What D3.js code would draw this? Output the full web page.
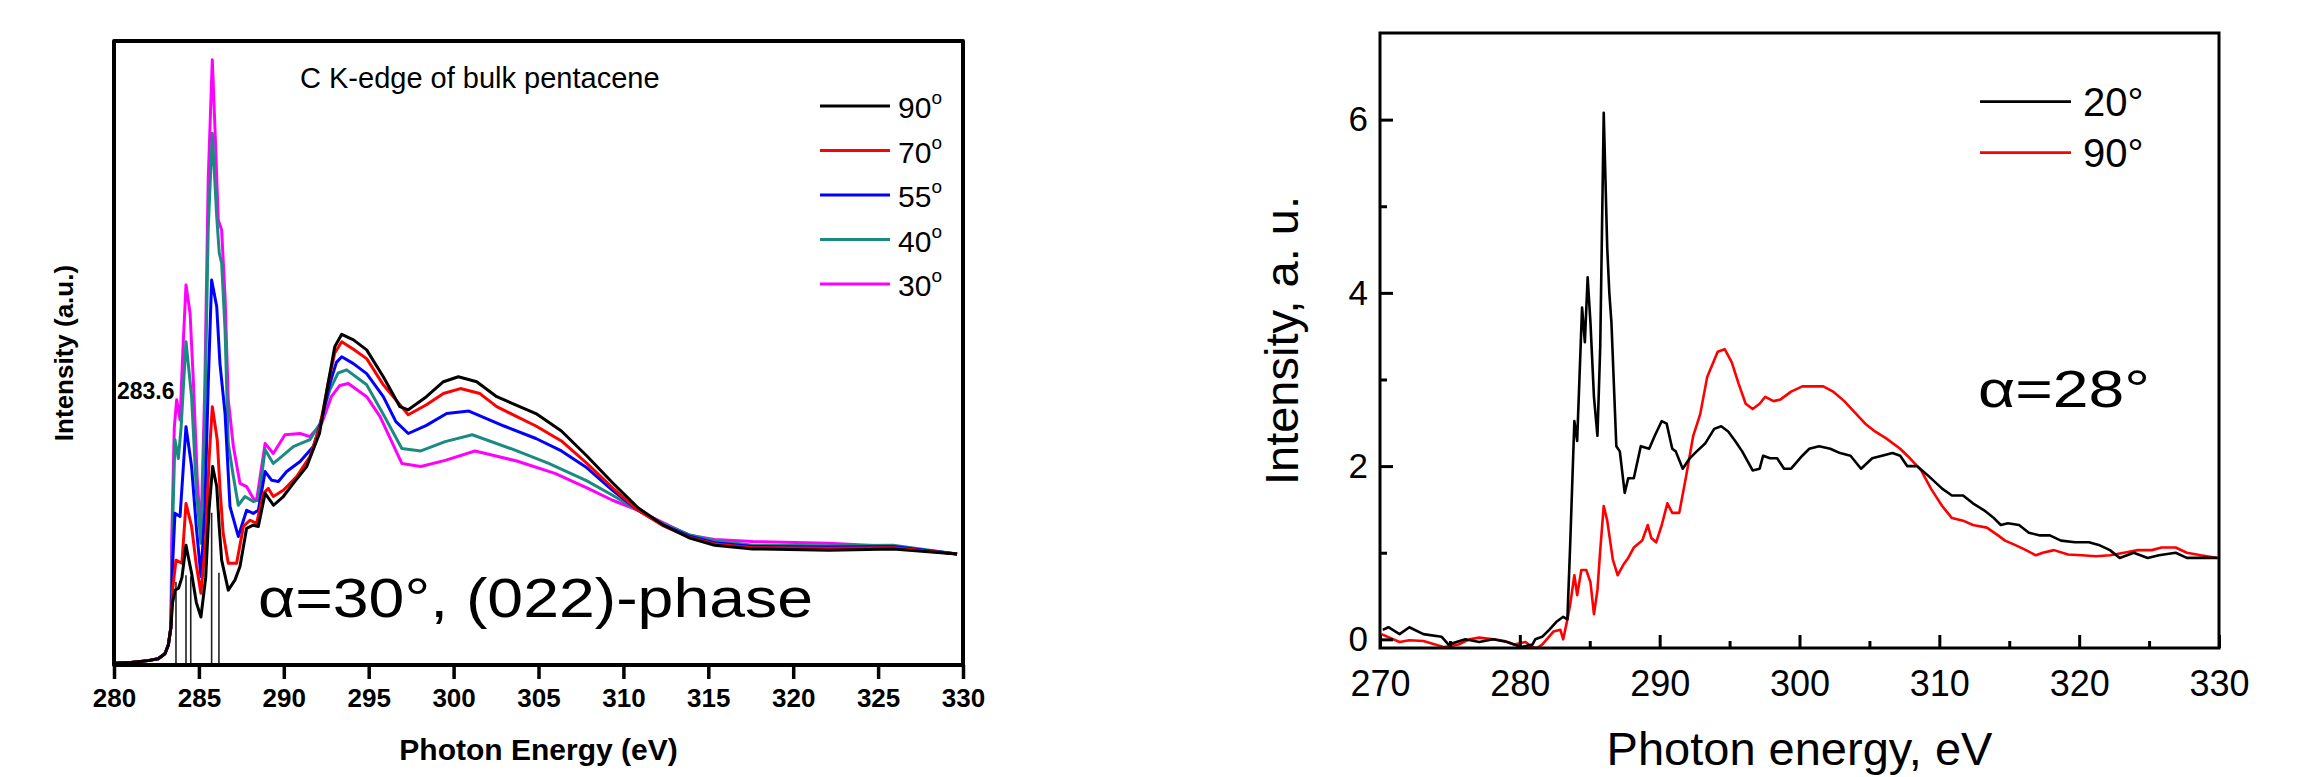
<!DOCTYPE html>
<html>
<head>
<meta charset="utf-8">
<script src="https://cdn.jsdelivr.net/npm/d3@7"></script>
<style>
  body { margin: 0; background: #fff; }
  svg { display: block; }
  text { font-family: "Liberation Sans", Arial, sans-serif; }
</style>
</head>
<body>
<svg id="svg"></svg>
<script>
// ---------- LEFT PANEL DATA (bulk pentacene, arbitrary units 0..100) ----------
const leftTicks = [280, 285, 290, 295, 300, 305, 310, 315, 320, 325, 330];
const leftNames = ['90', '70', '55', '40', '30'];

const preEdge = [[280, 0.3], [281, 0.4], [282, 0.7], [282.6, 1.0], [283, 1.8], [283.2, 3.2], [283.35, 6]];

const k90 = [[283.45, 10], [283.6, 12.0], [283.8, 12.3], [284.0, 14], [284.24, 19.2], [284.4, 17], [284.57, 14.7], [284.85, 10], [285.12, 7.7], [285.4, 14], [285.6, 25], [285.81, 31.8], [286.05, 28.6], [286.2, 22], [286.34, 16.8], [286.73, 12.0], [287.12, 13.6], [287.42, 15.8], [287.81, 21.9], [288.2, 22.4], [288.5, 22.2], [288.9, 27.5], [289.4, 25.6], [289.97, 27.0], [290.56, 29.1], [291.35, 31.8], [292.1, 37.1], [292.6, 45], [293.0, 51], [293.41, 53.0], [294.1, 52.1], [294.88, 50.5], [295.86, 46.2], [296.84, 41.4], [297.33, 40.9], [298.4, 43.0], [299.4, 45.4], [300.28, 46.2], [301.36, 45.4], [302.54, 43.0], [304.85, 40.3], [306.35, 37.5], [307.85, 33.5], [309.36, 29.2], [310.86, 25.2], [312.36, 22.4], [313.86, 20.4], [315.37, 19.2], [317.62, 18.6], [322.1, 18.4], [325.88, 18.6], [329.65, 17.8]];

const k70 = [[283.45, 12], [283.65, 16.8], [284.0, 16.3], [284.24, 25.9], [284.57, 22.2], [284.85, 16], [285.12, 11.5], [285.4, 20], [285.6, 33], [285.79, 41.4], [286.08, 36.1], [286.25, 28], [286.43, 21.1], [286.73, 16.3], [287.22, 16.3], [287.62, 22.2], [288.0, 23.2], [288.4, 22.7], [288.8, 27.5], [289.09, 28.3], [289.38, 27.0], [289.97, 28.0], [290.76, 30.2], [291.54, 33.4], [292.13, 38.2], [292.6, 45], [293.0, 50], [293.41, 51.8], [294.1, 50.6], [294.88, 49.1], [295.86, 44.9], [297.33, 40.1], [298.4, 41.7], [299.4, 43.5], [300.4, 44.3], [301.55, 43.5], [302.54, 41.4], [304.85, 38.3], [306.35, 35.9], [307.85, 32.3], [309.36, 28.4], [310.86, 24.8], [312.36, 22.3], [313.86, 20.5], [315.37, 19.4], [317.62, 18.8], [322.1, 18.7], [325.88, 18.8], [329.65, 17.8]];

const k55 = [[283.45, 16], [283.59, 24.3], [283.89, 23.8], [284.24, 38.2], [284.57, 31.8], [284.85, 22], [285.12, 14.2], [285.35, 25], [285.55, 45], [285.75, 61.7], [286.05, 57.4], [286.24, 48.3], [286.54, 40.3], [286.83, 25.4], [287.32, 20.6], [287.81, 24.8], [288.2, 24.3], [288.5, 24.8], [288.9, 31.0], [289.29, 29.6], [289.68, 29.4], [290.17, 31.0], [290.96, 32.6], [291.74, 35.0], [292.23, 39.3], [292.7, 45], [293.1, 48.5], [293.41, 49.4], [294.1, 48.3], [294.88, 46.7], [295.86, 43.0], [296.6, 39], [297.33, 37.1], [298.4, 38.4], [299.59, 40.3], [300.9, 40.7], [302.97, 38.3], [304.85, 36.3], [306.35, 34.3], [307.85, 31.6], [309.36, 28.0], [310.86, 24.8], [312.36, 22.4], [313.86, 20.7], [315.37, 19.6], [317.62, 19.0], [322.1, 18.9], [325.88, 19.0], [329.65, 17.8]];

const k40 = [[283.45, 22], [283.59, 36.1], [283.79, 33.1], [283.95, 38], [284.24, 51.8], [284.57, 43.0], [284.85, 28], [285.12, 19.5], [285.35, 40], [285.55, 70], [285.79, 85.2], [286.05, 71.8], [286.2, 66], [286.34, 64.4], [286.54, 53.7], [286.73, 35.5], [287.03, 30.2], [287.32, 25.6], [287.71, 27.0], [288.2, 26.2], [288.5, 26.4], [288.9, 34.5], [289.38, 32.3], [289.87, 33.4], [290.56, 35.0], [291.54, 36.1], [292.13, 38.7], [292.7, 44], [293.2, 46.8], [293.7, 47.3], [294.88, 44.9], [295.9, 40], [296.95, 34.7], [298.07, 34.3], [299.5, 35.8], [301.1, 36.9], [303.35, 34.7], [305.6, 32.3], [307.85, 29.5], [309.36, 27.2], [310.86, 24.8], [312.36, 22.6], [313.86, 20.9], [315.37, 19.9], [317.62, 19.2], [322.1, 19.1], [325.88, 19.2], [329.65, 17.8]];

const k30 = [[283.4, 20], [283.55, 38], [283.69, 42.5], [283.89, 39.3], [284.05, 50], [284.24, 60.9], [284.48, 56.4], [284.67, 45.7], [284.9, 30], [285.12, 20.6], [285.35, 45], [285.55, 78], [285.79, 97.0], [285.95, 85.7], [286.14, 71.3], [286.34, 69.7], [286.54, 59.0], [286.73, 42.5], [287.03, 35.0], [287.42, 29.1], [287.81, 28.6], [288.2, 26.7], [288.4, 26.4], [288.9, 35.5], [289.38, 33.9], [290.07, 36.9], [290.96, 37.1], [291.54, 36.6], [292.23, 38.7], [292.8, 43], [293.3, 44.8], [293.8, 45.1], [294.88, 43.0], [295.67, 39.8], [296.95, 32.3], [298.07, 31.8], [299.5, 32.8], [301.26, 34.3], [303.72, 32.7], [305.97, 30.7], [307.85, 28.4], [309.36, 26.4], [310.86, 24.8], [312.36, 22.8], [313.86, 20.8], [315.37, 20.1], [317.62, 19.8], [322.1, 19.5], [325.88, 19.0], [329.65, 17.8]];

// calculated transitions (stick spectrum)
const stickE = [283.65, 284.24, 284.52, 285.75, 286.18];
const stickI = [13.3, 14.4, 14.2, 24.4, 14.8];

// ---------- RIGHT PANEL DATA (alpha = 28 deg) ----------
const rightXTicks = [270, 280, 290, 300, 310, 320, 330];
const rightYTicks = [0, 2, 4, 6];
const rightNames = ['20°', '90°'];

const r20 = [[270.2, 0.11], [270.6, 0.14], [271.4, 0.06], [272.1, 0.14], [273.1, 0.06], [274.4, 0.03], [274.9, -0.06], [276.1, 0], [277.1, -0.03], [278.1, 0], [279.1, -0.03], [280.1, -0.09], [280.9, -0.06], [281.1, 0], [281.6, 0.03], [282.1, 0.11], [282.6, 0.2], [283.1, 0.26], [283.4, 0.23], [283.6, 1.09], [283.9, 2.52], [284.1, 2.29], [284.45, 3.83], [284.65, 3.43], [284.85, 4.18], [285.05, 3.66], [285.3, 2.8], [285.55, 2.35], [285.75, 3.38], [286.0, 6.08], [286.25, 4.52], [286.4, 4.0], [286.55, 3.66], [286.9, 2.23], [287.15, 2.17], [287.5, 1.69], [287.75, 1.86], [288.15, 1.86], [288.65, 2.23], [289.25, 2.2], [289.65, 2.35], [290.15, 2.52], [290.5, 2.49], [290.9, 2.2], [291.15, 2.17], [291.65, 1.97], [292.15, 2.09], [292.65, 2.17], [293.25, 2.26], [293.9, 2.43], [294.4, 2.46], [294.9, 2.4], [295.4, 2.29], [295.9, 2.17], [296.65, 1.95], [297.15, 1.97], [297.4, 2.12], [297.9, 2.09], [298.4, 2.09], [298.9, 1.97], [299.4, 1.97], [300.2, 2.12], [300.7, 2.2], [301.4, 2.23], [302.2, 2.2], [302.9, 2.15], [303.65, 2.12], [304.4, 1.97], [305.2, 2.09], [305.9, 2.12], [306.65, 2.15], [307.2, 2.12], [307.7, 2.0], [308.4, 2.0], [309.2, 1.89], [310.2, 1.74], [310.9, 1.66], [311.7, 1.66], [312.4, 1.57], [313.2, 1.49], [313.9, 1.4], [314.4, 1.32], [314.9, 1.34], [315.7, 1.32], [316.4, 1.23], [317.2, 1.2], [317.9, 1.2], [318.7, 1.14], [319.7, 1.12], [320.7, 1.12], [321.4, 1.09], [322.2, 1.03], [322.9, 0.94], [323.9, 1.0], [324.9, 0.94], [325.7, 0.97], [326.9, 1.0], [327.7, 0.94], [328.7, 0.94], [329.9, 0.94]];

const r90 = [[270.1, 0.06], [271.4, -0.03], [272.1, -0.01], [273.1, -0.02], [274.6, -0.09], [275.6, -0.06], [276.4, 0], [277.1, 0.02], [278.1, 0], [278.9, -0.02], [279.6, -0.06], [280.4, -0.03], [280.9, -0.09], [281.2, -0.1], [281.6, -0.06], [282.4, 0.09], [282.9, 0.11], [283.1, 0], [283.4, 0.23], [283.6, 0.4], [283.9, 0.74], [284.1, 0.51], [284.4, 0.8], [284.75, 0.8], [285.05, 0.66], [285.3, 0.29], [285.55, 0.57], [285.75, 1.03], [286.0, 1.54], [286.25, 1.37], [286.65, 0.92], [287.0, 0.74], [287.4, 0.86], [287.75, 0.94], [288.15, 1.06], [288.75, 1.14], [289.15, 1.32], [289.4, 1.17], [289.75, 1.12], [290.15, 1.32], [290.55, 1.57], [290.9, 1.46], [291.4, 1.46], [291.9, 1.89], [292.4, 2.35], [292.9, 2.6], [293.4, 3.03], [294.15, 3.32], [294.65, 3.35], [295.15, 3.2], [295.65, 2.95], [296.15, 2.72], [296.65, 2.66], [297.15, 2.72], [297.55, 2.8], [298.15, 2.75], [298.65, 2.77], [299.4, 2.86], [300.2, 2.92], [300.9, 2.92], [301.7, 2.92], [302.4, 2.86], [303.2, 2.75], [303.9, 2.63], [304.7, 2.49], [305.4, 2.4], [306.2, 2.32], [307.2, 2.2], [307.9, 2.09], [308.7, 1.95], [309.4, 1.74], [310.2, 1.54], [310.9, 1.4], [311.7, 1.37], [312.4, 1.32], [313.4, 1.29], [314.2, 1.2], [314.7, 1.14], [315.4, 1.09], [316.2, 1.03], [316.9, 0.97], [317.4, 1.0], [318.2, 1.03], [319.2, 0.98], [320.2, 0.97], [321.2, 0.96], [322.2, 0.97], [323.2, 1.0], [324.2, 1.03], [325.2, 1.03], [325.9, 1.06], [326.9, 1.06], [327.7, 1.0], [328.7, 0.97], [329.9, 0.94]];

// ---------- DRAWING ----------
const W = 2297, H = 777;
const svg = d3.select('#svg').attr('width', W).attr('height', H);
svg.append('rect').attr('width', W).attr('height', H).attr('fill', '#fff');

// LEFT PANEL
const L = { left: 114, right: 963, top: 41, bottom: 665 };
const xL = d3.scaleLinear().domain([280, 330]).range([L.left, L.right]);
const yL = d3.scaleLinear().domain([0, 100]).range([L.bottom, L.top]);
const leftColours = ['#000000', '#ff0000', '#0000ff', '#1b8a80', '#ff00ff'];
const leftSeries = [k90, k70, k55, k40, k30].map(s => preEdge.concat(s));

const lineL = d3.line().x(d => xL(d[0])).y(d => yL(d[1]));

// sticks
svg.append('g')
  .selectAll('line')
  .data(stickE)
  .enter()
  .append('line')
  .attr('x1', d => xL(d)).attr('x2', d => xL(d))
  .attr('y1', yL(0)).attr('y2', (d, i) => yL(stickI[i]))
  .attr('stroke', '#222').attr('stroke-width', 1.6);

// curves, drawn 30 first so 90 ends on top like the original
svg.append('g')
  .selectAll('path')
  .data(leftSeries.map((s, i) => ({ s, i })).reverse())
  .enter()
  .append('path')
  .attr('d', d => lineL(d.s))
  .attr('fill', 'none')
  .attr('stroke', d => leftColours[d.i])
  .attr('stroke-width', 3)
  .attr('stroke-linejoin', 'round');

// frame
svg.append('rect')
  .attr('x', L.left).attr('y', L.top)
  .attr('width', L.right - L.left).attr('height', L.bottom - L.top)
  .attr('fill', 'none').attr('stroke', '#000').attr('stroke-width', 4)
  .attr('stroke-linejoin', 'round');

// x axis
const axL = svg.append('g')
  .attr('transform', `translate(0, ${L.bottom})`)
  .call(d3.axisBottom(xL).tickValues(leftTicks).tickSize(14).tickSizeOuter(0).tickPadding(10));
axL.select('.domain').remove();
axL.selectAll('line').attr('stroke-width', 3.5);
axL.selectAll('text')
  .attr('font-size', 26).attr('font-weight', 'bold')
  .attr('font-family', '"Liberation Sans", Arial, sans-serif');

svg.append('text')
  .attr('x', (L.left + L.right) / 2).attr('y', 760)
  .attr('text-anchor', 'middle')
  .attr('font-size', 30).attr('font-weight', 'bold')
  .text('Photon Energy (eV)');

svg.append('text')
  .attr('transform', `translate(73, ${(L.top + L.bottom) / 2}) rotate(-90)`)
  .attr('text-anchor', 'middle')
  .attr('font-size', 26).attr('font-weight', 'bold')
  .text('Intensity (a.u.)');

svg.append('text')
  .attr('x', 300).attr('y', 88)
  .attr('font-size', 29)
  .text('C K-edge of bulk pentacene');

svg.append('text')
  .attr('x', 117).attr('y', 399)
  .attr('font-size', 23).attr('font-weight', 'bold')
  .text('283.6');

svg.append('text')
  .attr('x', 258).attr('y', 617)
  .attr('font-size', 56)
  .attr('textLength', 555).attr('lengthAdjust', 'spacingAndGlyphs')
  .text('α=30°, (022)-phase');

// legend
const legL = svg.append('g');
leftNames.forEach((n, i) => {
  const y = 106 + i * 44.5;
  legL.append('line')
    .attr('x1', 820).attr('x2', 890).attr('y1', y).attr('y2', y)
    .attr('stroke', leftColours[i]).attr('stroke-width', 3);
  const t = legL.append('text').attr('x', 898).attr('y', y + 12).attr('font-size', 30);
  t.append('tspan').text(n);
  t.append('tspan').attr('dy', -14).attr('font-size', 19).text('o');
});

// RIGHT PANEL
const R = { left: 1380, right: 2219, top: 33, bottom: 648 };
const xR = d3.scaleLinear().domain([270, 330]).range([R.left, R.right]);
const yR = d3.scaleLinear().domain([-0.1, 7]).range([R.bottom, R.top]);
const rightColours = ['#000000', '#ff0000'];
const lineR = d3.line().x(d => xR(d[0])).y(d => yR(d[1]));

svg.append('g')
  .selectAll('path')
  .data([r90, r20])
  .enter()
  .append('path')
  .attr('d', d => lineR(d))
  .attr('fill', 'none')
  .attr('stroke', (d, i) => rightColours[1 - i])
  .attr('stroke-width', 2.6)
  .attr('stroke-linejoin', 'round');

svg.append('rect')
  .attr('x', R.left).attr('y', R.top)
  .attr('width', R.right - R.left).attr('height', R.bottom - R.top)
  .attr('fill', 'none').attr('stroke', '#000').attr('stroke-width', 3);

// x axis, major + minor ticks pointing in
const axRx = svg.append('g')
  .attr('transform', `translate(0, ${R.bottom})`)
  .call(d3.axisBottom(xR).tickValues(rightXTicks).tickSize(-13).tickSizeOuter(0).tickPadding(22));
axRx.select('.domain').remove();
axRx.selectAll('line').attr('stroke-width', 3);
axRx.selectAll('text').attr('font-size', 36)
  .attr('font-family', '"Liberation Sans", Arial, sans-serif');

const axRxm = svg.append('g')
  .attr('transform', `translate(0, ${R.bottom})`)
  .call(d3.axisBottom(xR).tickValues(rightXTicks.slice(0, -1).map(v => v + 5)).tickSize(-7).tickSizeOuter(0).tickFormat(''));
axRxm.select('.domain').remove();
axRxm.selectAll('line').attr('stroke-width', 3);

// y axis
const axRy = svg.append('g')
  .attr('transform', `translate(${R.left}, 0)`)
  .call(d3.axisLeft(yR).tickValues(rightYTicks).tickSize(-13).tickSizeOuter(0).tickPadding(12));
axRy.select('.domain').remove();
axRy.selectAll('line').attr('stroke-width', 3);
axRy.selectAll('text').attr('font-size', 35)
  .attr('font-family', '"Liberation Sans", Arial, sans-serif');

const axRym = svg.append('g')
  .attr('transform', `translate(${R.left}, 0)`)
  .call(d3.axisLeft(yR).tickValues([1, 3, 5]).tickSize(-7).tickSizeOuter(0).tickFormat(''));
axRym.select('.domain').remove();
axRym.selectAll('line').attr('stroke-width', 3);

svg.append('text')
  .attr('x', (R.left + R.right) / 2).attr('y', 765)
  .attr('text-anchor', 'middle')
  .attr('font-size', 47)
  .text('Photon energy, eV');

svg.append('text')
  .attr('transform', `translate(1298, ${(R.top + R.bottom) / 2}) rotate(-90)`)
  .attr('text-anchor', 'middle')
  .attr('font-size', 47)
  .text('Intensity, a. u.');

svg.append('text')
  .attr('x', 1978).attr('y', 407)
  .attr('font-size', 52)
  .attr('textLength', 172).attr('lengthAdjust', 'spacingAndGlyphs')
  .text('α=28°');

const legR = svg.append('g');
rightNames.forEach((n, i) => {
  const y = 101.6 + i * 51;
  legR.append('line')
    .attr('x1', 1980).attr('x2', 2071).attr('y1', y).attr('y2', y)
    .attr('stroke', rightColours[i]).attr('stroke-width', 2.6);
  legR.append('text').attr('x', 2083).attr('y', y + 14).attr('font-size', 40).text(n);
});
</script>
</body>
</html>
